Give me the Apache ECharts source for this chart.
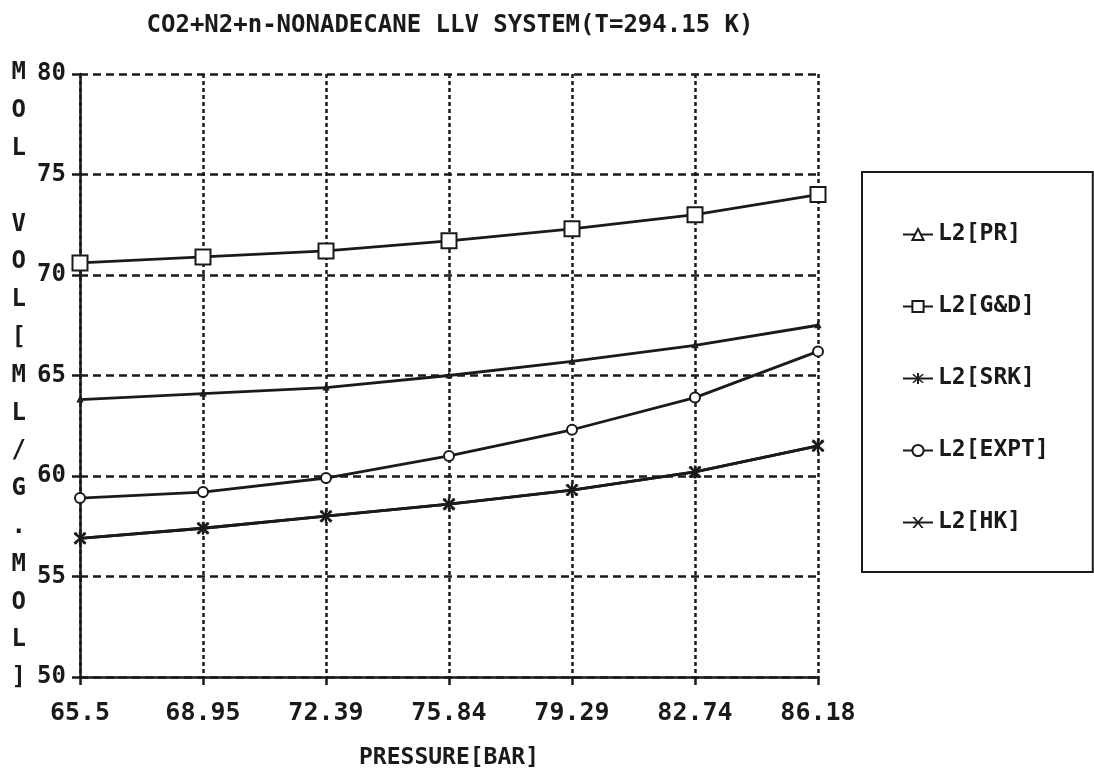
<!DOCTYPE html>
<html>
<head>
<meta charset="utf-8">
<title>CO2+N2+n-NONADECANE LLV SYSTEM</title>
<script src="https://cdn.jsdelivr.net/npm/echarts@6/dist/echarts.min.js"></script>
<style>
  html, body { margin: 0; padding: 0; background: #fff; }
  #chart { width: 1094px; height: 778px; }
</style>
</head>
<body>
<div id="chart"></div>
<script>
// pressure ticks (bar)
const pressures = ['65.5', '68.95', '72.39', '75.84', '79.29', '82.74', '86.18'];

// L2 molar volume [ml/g.mol]
const prVals   = [63.8, 64.1, 64.4, 65.0, 65.7, 66.5, 67.5];
const gdVals   = [70.6, 70.9, 71.2, 71.7, 72.3, 73.0, 74.0];
const srkVals  = [56.9, 57.4, 58.0, 58.6, 59.3, 60.2, 61.5];
const exptVals = [58.9, 59.2, 59.9, 61.0, 62.3, 63.9, 66.2];
const hkVals   = [56.9, 57.4, 58.0, 58.6, 59.3, 60.2, 61.5];

const FONT = '"DejaVu Sans Mono", monospace';
const INK = '#1a1a1a';

// marker shapes
const asterisk = 'path://M-1,-6L1,-6L1,6L-1,6Z M-5.6,-3.9L-4.6,-5.1L5.6,3.9L4.6,5.1Z M4.6,-5.1L5.6,-3.9L-4.6,5.1L-5.6,3.9Z';
const crossX = 'path://M-5,-6L-3,-6L5,6L3,6Z M3,-6L5,-6L-3,6L-5,6Z';

const chart = echarts.init(document.getElementById('chart'));

function mkSeries(name, data, symbol, size, fill) {
  return {
    name: name,
    type: 'line',
    data: data,
    symbol: symbol,
    symbolSize: size,
    showSymbol: true,
    lineStyle: { color: INK, width: 2.8 },
    itemStyle: { color: fill || INK, borderColor: INK, borderWidth: fill ? 2 : 0 },
    emphasis: { disabled: true },
    animation: false
  };
}

const option = {
  backgroundColor: '#fff',
  title: {
    text: 'CO2+N2+n-NONADECANE LLV SYSTEM(T=294.15 K)',
    left: 445,
    textAlign: 'center',
    top: 9,
    textStyle: { fontFamily: FONT, fontSize: 24, fontWeight: 'bold', color: INK }
  },
  grid: { left: 80, right: 276, top: 74, bottom: 101 },
  legend: {
    orient: 'vertical',
    left: 862,
    top: 172,
    padding: [51, 44, 38, 40],
    itemGap: 49,
    itemWidth: 30,
    itemHeight: 14,
    itemTextGap: 9,
    borderColor: INK,
    borderWidth: 2,
    textStyle: { fontFamily: FONT, fontSize: 23, fontWeight: 'bold', color: INK },
    data: ['L2[PR]', 'L2[G&D]', 'L2[SRK]', 'L2[EXPT]', 'L2[HK]']
  },
  xAxis: {
    type: 'category',
    data: pressures,
    boundaryGap: false,
    name: 'PRESSURE[BAR]',
    nameLocation: 'middle',
    nameGap: 70,
    nameTextStyle: { fontFamily: FONT, fontSize: 23, fontWeight: 'bold', color: INK },
    axisLine: { lineStyle: { color: INK, width: 2.5 } },
    axisTick: { show: true, length: 8, lineStyle: { color: INK, width: 2.5 } },
    axisLabel: { margin: 24, fontFamily: FONT, fontSize: 25, fontWeight: 'bold', color: INK },
    splitLine: { show: true, lineStyle: { color: INK, width: 2.5, type: [4, 3] } }
  },
  yAxis: {
    type: 'value',
    min: 50,
    max: 80,
    interval: 5,
    name: 'M\nO\nL\n \nV\nO\nL\n[\nM\nL\n/\nG\n.\nM\nO\nL\n]',
    nameLocation: 'middle',
    nameRotate: 0,
    nameGap: 54,
    nameTextStyle: { fontFamily: FONT, fontSize: 24, fontWeight: 'bold', color: INK, lineHeight: 37.8, padding: [8, 0, 0, 0] },
    axisLine: { show: true, lineStyle: { color: INK, width: 2.5 } },
    axisTick: { show: true, length: 8, lineStyle: { color: INK, width: 2.5 } },
    axisLabel: { margin: 14, fontFamily: FONT, fontSize: 24, fontWeight: 'bold', color: INK },
    splitLine: { show: true, lineStyle: { color: INK, width: 2.5, type: [8, 5] } }
  },
  series: [
    mkSeries('L2[PR]', prVals, 'emptyTriangle', 4),
    mkSeries('L2[G&D]', gdVals, 'rect', 15, '#fff'),
    mkSeries('L2[SRK]', srkVals, asterisk, 13),
    mkSeries('L2[EXPT]', exptVals, 'circle', 10, '#fff'),
    mkSeries('L2[HK]', hkVals, crossX, 12)
  ]
};

chart.setOption(option);
</script>
</body>
</html>
